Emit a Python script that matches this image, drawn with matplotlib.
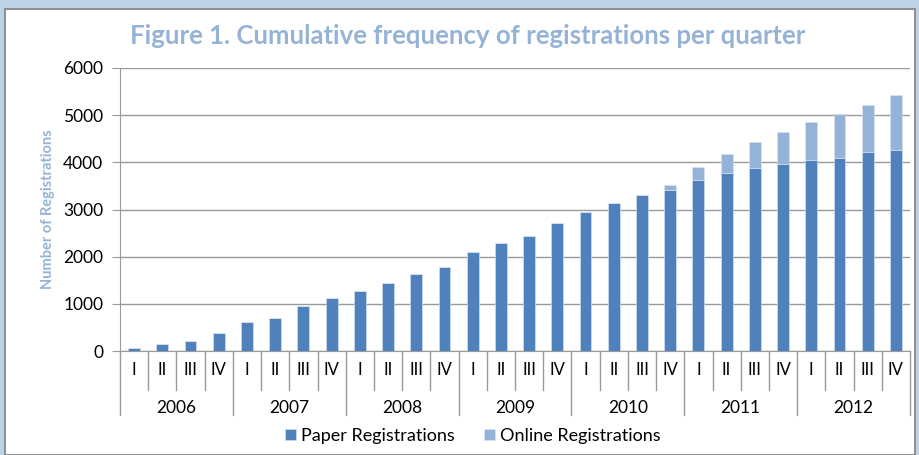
import matplotlib.pyplot as plt
import numpy as np
from matplotlib.patches import Rectangle

years = ['2006', '2007', '2008', '2009', '2010', '2011', '2012']
quarters = ['I', 'II', 'III', 'IV']

paper = [57, 155, 218, 388,
         615, 706, 954, 1130,
         1278, 1448, 1639, 1790,
         2100, 2283, 2438, 2720,
         2947, 3131, 3301, 3405,
         3622, 3780, 3880, 3958,
         4056, 4092, 4212, 4268]
online = [0, 0, 0, 0,
          0, 0, 0, 0,
          0, 0, 0, 0,
          0, 0, 0, 0,
          0, 0, 0, 115,
          270, 390, 545, 680,
          800, 930, 1000, 1160]

c_paper = '#4F81BD'
c_online = '#95B3D7'
grid_c = '#9A9A9A'

plt.rcParams['font.family'] = ['Lato', 'DejaVu Sans']

fig = plt.figure(figsize=(9.2, 4.55), dpi=100, facecolor='#BFD1E7')
# white chart panel
fig.patches.append(Rectangle((5 / 920, 0), 910 / 920, (455 - 9) / 455,
                             transform=fig.transFigure, facecolor='white',
                             edgecolor='#7F7F7F', linewidth=1.2, zorder=-10))

ax = fig.add_axes([120 / 920, (455 - 351) / 455, 790 / 920, 283 / 455])
ax.patch.set_alpha(0)
x = np.arange(len(paper))
ax.bar(x, paper, width=0.42, color=c_paper, edgecolor='#DCE6F2', linewidth=0.4,
       label='Paper Registrations', zorder=3)
ax.bar(x, online, width=0.42, bottom=paper, color=c_online, edgecolor='#DCE6F2',
       linewidth=0.4, label='Online Registrations', zorder=3)

ax.set_xlim(-0.5, len(paper) - 0.5)
ax.set_ylim(0, 6000)
ax.set_yticks(range(0, 6001, 1000))
ax.tick_params(axis='y', labelsize=12.5, length=6, color=grid_c, pad=6)
ax.yaxis.grid(True, color=grid_c, linewidth=1)
ax.set_axisbelow(True)
for s in ['top', 'right']:
    ax.spines[s].set_visible(False)
ax.spines['left'].set_color(grid_c)
ax.spines['bottom'].set_color(grid_c)
ax.set_xticks([])

ax.set_ylabel('Number of Registrations', color=c_online, fontsize=10.5,
              fontweight='bold', labelpad=6)

# multi-level category axis
trans = ax.get_xaxis_transform()
for i in range(len(paper) + 1):
    xb = i - 0.5
    if i % 4 == 0:
        ax.plot([xb, xb], [0, -64 / 283], transform=trans, color=grid_c,
                linewidth=1, clip_on=False)
    else:
        ax.plot([xb, xb], [0, -39 / 283], transform=trans, color=grid_c,
                linewidth=1, clip_on=False)
for i in range(len(paper)):
    ax.text(i, -19 / 283, quarters[i % 4], transform=trans, ha='center',
            va='center', fontsize=12)
for j, yr in enumerate(years):
    ax.text(j * 4 + 1.5, -57 / 283, yr, transform=trans, ha='center',
            va='center', fontsize=12.5)

fig.text(468 / 920, 1 - 36 / 455,
         'Figure 1. Cumulative frequency of registrations per quarter',
         ha='center', va='center', color=c_online, fontsize=18.5, fontweight='bold')

fig.legend(loc='center', bbox_to_anchor=(473 / 920, 1 - 436 / 455), ncol=2,
           frameon=False, fontsize=13, handlelength=0.6, handleheight=0.6,
           handletextpad=0.3, columnspacing=1.6)

fig.savefig('out.png', dpi=100, facecolor=fig.get_facecolor())
